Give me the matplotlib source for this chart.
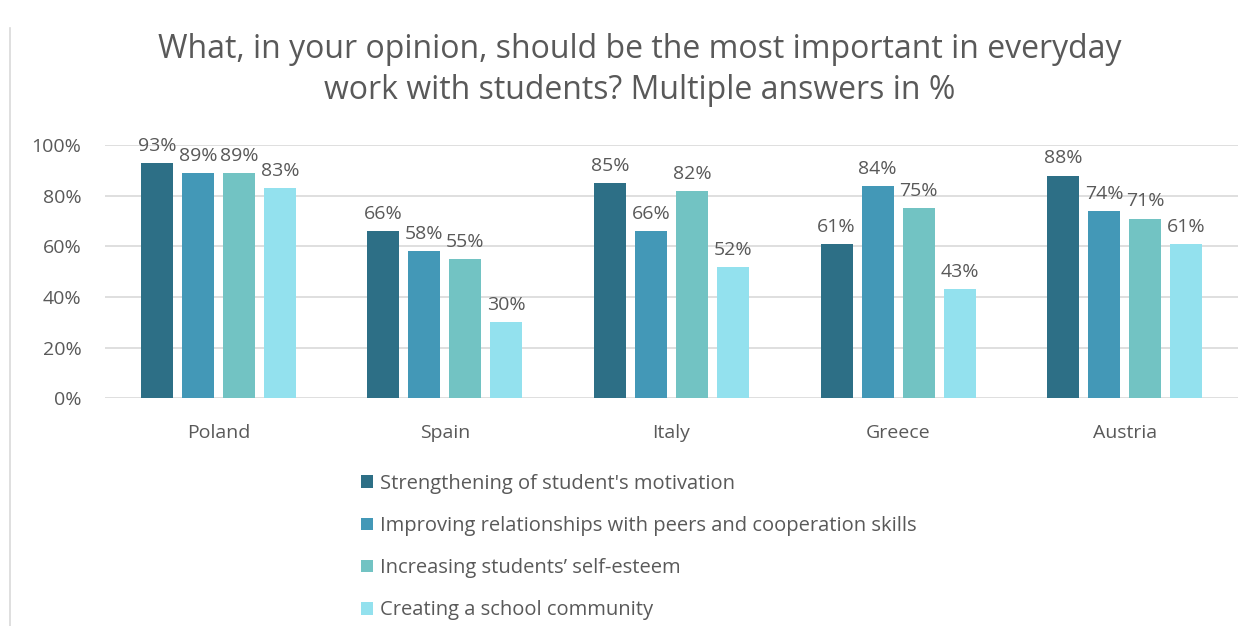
import numpy as np
import matplotlib.pyplot as plt
from matplotlib.lines import Line2D

countries = ['Poland', 'Spain', 'Italy', 'Greece', 'Austria']
answers = [
    "Strengthening of student's motivation",
    'Improving relationships with peers and cooperation skills',
    'Increasing students\u2019 self-esteem',
    'Creating a school community',
]
motivation = [93, 66, 85, 61, 88]
relationships = [89, 58, 66, 84, 74]
self_esteem = [89, 55, 82, 75, 71]
community = [83, 30, 52, 43, 61]
colors = ['#2d6f86', '#4398b7', '#72c3c3', '#93e1ee']

series = [motivation, relationships, self_esteem, community]
txt = '#595959'
plt.rcParams['font.family'] = ['Open Sans', 'DejaVu Sans']

fig = plt.figure(figsize=(12.55, 6.26), dpi=100)
ax = fig.add_axes([0.0837, 0.364, 0.9028, 0.404])

x = np.arange(len(countries))
step = 0.181
w = 0.141
for k, vals in enumerate(series):
    pos = x + (k - 1.5) * step
    ax.bar(pos, vals, w, color=colors[k], label=answers[k], zorder=3)
    for p, v in zip(pos, vals):
        ax.text(p, v + 3.2, f'{v}%', ha='center', va='bottom',
                fontsize=14, color=txt)

ax.set_xlim(-0.5, len(countries) - 0.5)
ax.set_ylim(0, 100)
ax.set_yticks(range(0, 101, 20))
ax.set_yticklabels([f'{t}%' for t in range(0, 101, 20)])
ax.set_xticks(x)
ax.set_xticklabels(countries)
ax.tick_params(axis='both', length=0, labelsize=14, labelcolor=txt)
ax.tick_params(axis='x', pad=18.5)
ax.tick_params(axis='y', pad=17)
ax.yaxis.grid(True, color='#d9d9d9', lw=1.2, zorder=0)
for s in ax.spines.values():
    s.set_visible(False)

fig.text(0.51, 0.888, 'What, in your opinion, should be the most important in everyday\n'
         'work with students? Multiple answers in %', ha='center', va='center',
         fontsize=23, color=txt, linespacing=1.3)

fig.legend(loc='upper left', bbox_to_anchor=(0.273, 0.272), frameon=False,
           fontsize=14.5, labelcolor=txt, handlelength=0.6, handleheight=0.6,
           handletextpad=0.35, labelspacing=1.1)

fig.add_artist(Line2D([0.008, 0.008], [0.0, 0.955], color='#d9d9d9', lw=1.2))

fig.savefig('out.png', dpi=100)
